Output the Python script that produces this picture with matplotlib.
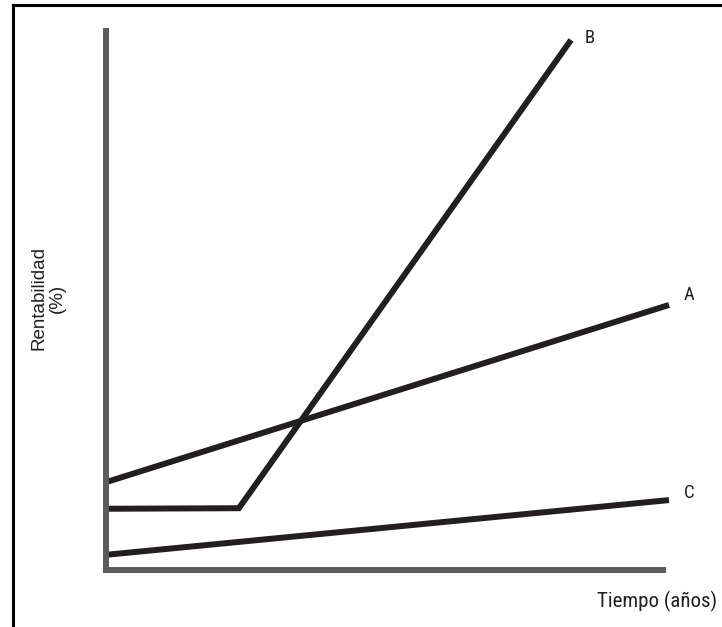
import matplotlib.pyplot as plt
from matplotlib.lines import Line2D

# line data (arbitrary units: time 0-10, return 0-10)
a_x = [0, 10]
a_y = [1.62, 4.89]
b_x = [0, 2.36, 8.26]
b_y = [1.13, 1.14, 9.78]
c_x = [0, 10]
c_y = [0.28, 1.29]
names = ['A', 'B', 'C']

W, H = 722, 627
fig = plt.figure(figsize=(W / 100, H / 100), dpi=100)
# axes box in pixels: left 106, bottom 570, right 663, top 31
ax = fig.add_axes([106 / W, 57 / H, (663 - 106) / W, (570 - 31) / H])

ink = '#231f20'
for xs, ys in [(a_x, a_y), (b_x, b_y), (c_x, c_y)]:
    ax.plot(xs, ys, color=ink, lw=4.3, solid_capstyle='butt',
            solid_joinstyle='miter', clip_on=False)

# lines run slightly past the spine ends
ax.set_xlim(0, 10 * (663 - 106) / (669 - 106))
ax.set_ylim(0, 10 * (570 - 31) / (570 - 28))
for s in ['top', 'right']:
    ax.spines[s].set_visible(False)
for s in ['left', 'bottom']:
    ax.spines[s].set_color('#5b5b5b')
    ax.spines[s].set_linewidth(4.3)
    ax.spines[s].set_capstyle('projecting')
ax.set_xticks([])
ax.set_yticks([])

cond = ['Roboto Condensed', 'DejaVu Sans']
fig.text(684 / W, 1 - 300 / H, names[0], fontsize=13.5, family=cond, color=ink, va='baseline')
fig.text(585 / W, 1 - 43 / H, names[1], fontsize=13.5, family=cond, color=ink, va='baseline')
fig.text(684 / W, 1 - 498 / H, names[2], fontsize=13.5, family=cond, color=ink, va='baseline')

fig.text(717 / W, 1 - 607 / H, 'Tiempo (años)', fontsize=15, family=cond,
         color=ink, ha='right', va='baseline')
fig.text(48 / W, 1 - 298 / H, 'Rentabilidad\n(%)', fontsize=13.5,
         family=['Liberation Sans', 'DejaVu Sans'], rotation=90, color=ink,
         ha='center', va='center', linespacing=1.15)

# frame on top and left
fig.add_artist(Line2D([12.5 / W, 1], [1 - 5 / H, 1 - 5 / H], color='black', lw=2.2))
fig.add_artist(Line2D([12.5 / W, 12.5 / W], [0, 1 - 5 / H], color='black', lw=2.2))

fig.savefig('out.png', dpi=100)
